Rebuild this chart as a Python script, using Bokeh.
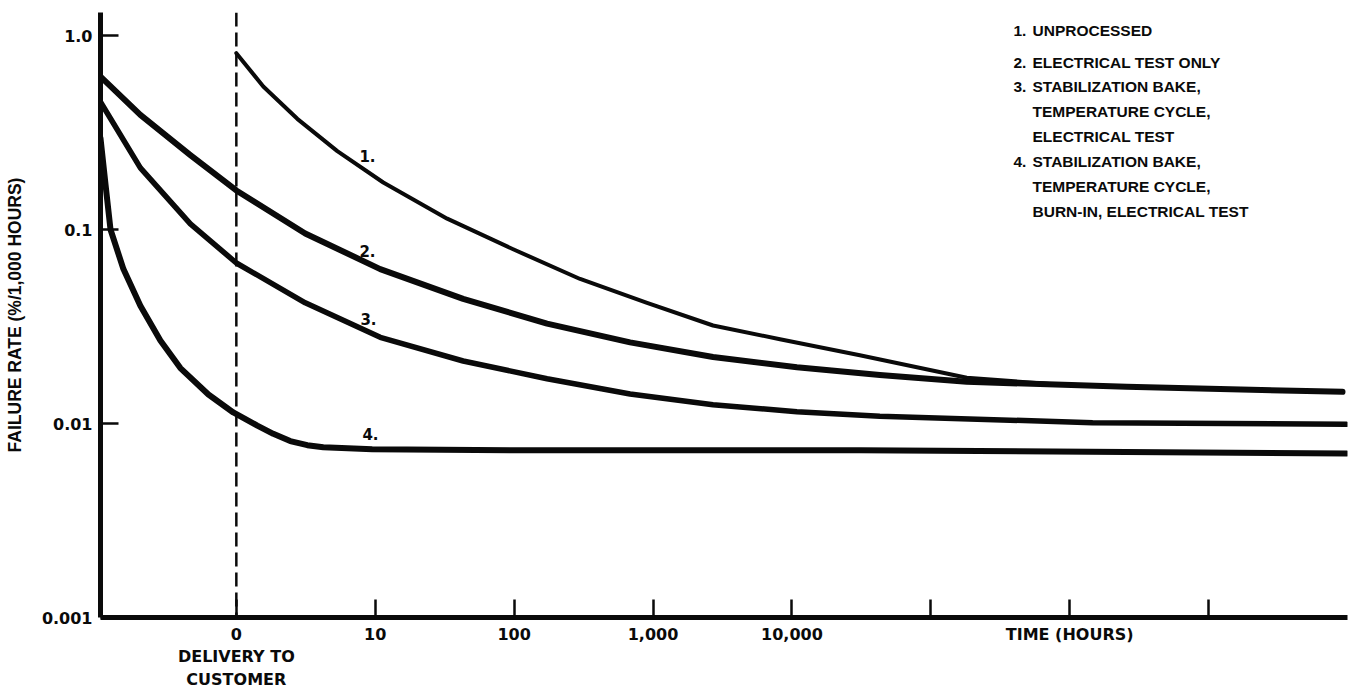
from bokeh.plotting import figure
from bokeh.models import FixedTicker, Label, Span
from bokeh.embed import file_html
from bokeh.resources import INLINE

# ---------------- data ----------------
# x = position on the stretched time axis: 0 = delivery to customer,
# 1 = 10 h, 2 = 100 h, 3 = 1,000 h, 4 = 10,000 h ...; negative = in-plant screening
curve1_x = [0.0, 0.194, 0.439, 0.727, 1.058, 1.518, 1.993, 2.475, 2.957, 3.432, 3.914, 4.489, 5.259, 5.856, 6.41, 7.964]
curve1_y = [0.811, 0.546, 0.372, 0.2535, 0.1747, 0.1137, 0.0791, 0.0556, 0.0419, 0.032, 0.0272, 0.0225, 0.0172, 0.016, 0.01545, 0.01456]

curve2_x = [-0.978, -0.691, -0.331, 0.0, 0.496, 1.036, 1.633, 2.237, 2.835, 3.432, 4.036, 4.633, 5.259, 6.41, 7.964]
curve2_y = [0.614, 0.39, 0.242, 0.159, 0.0954, 0.0625, 0.0439, 0.0327, 0.0262, 0.022, 0.0195, 0.0178, 0.0164, 0.01545, 0.01456]

curve3_x = [-0.978, -0.691, -0.331, 0.0, 0.496, 1.036, 1.633, 2.237, 2.835, 3.432, 4.036, 4.633, 6.165, 7.993]
curve3_y = [0.454, 0.208, 0.107, 0.0672, 0.0419, 0.0278, 0.021, 0.017, 0.0142, 0.0125, 0.0115, 0.0109, 0.0101, 0.0099]

curve4_x = [-0.978, -0.942, -0.906, -0.813, -0.691, -0.547, -0.403, -0.201, -0.022, 0.151, 0.266, 0.388, 0.511, 0.626, 0.978, 2.237, 4.489, 7.993]
curve4_y = [0.295, 0.171, 0.1, 0.0625, 0.0405, 0.0268, 0.0193, 0.0141, 0.0114, 0.00976, 0.00885, 0.00812, 0.00773, 0.00755, 0.00736, 0.00727, 0.00727, 0.00701]

curve_names = ["1.", "2.", "3.", "4."]

x_tick_positions = [0, 1, 2, 3, 4, 5, 6, 7]
x_tick_labels = ["0\nDELIVERY TO\nCUSTOMER", "10", "100", "1,000", "10,000", "", "TIME (HOURS)", ""]
y_tick_values = [0.001, 0.01, 0.1, 1.0]
y_tick_labels = ["0.001", "0.01", "0.1", "1.0"]

legend_numbers = ["1.", "2.", "3.", "", "", "4.", "", ""]
legend_lines = ["UNPROCESSED", "ELECTRICAL TEST ONLY", "STABILIZATION BAKE,",
                "TEMPERATURE CYCLE,", "ELECTRICAL TEST", "STABILIZATION BAKE,",
                "TEMPERATURE CYCLE,", "BURN-IN, ELECTRICAL TEST"]

y_title = "FAILURE RATE (%/1,000 HOURS)"

# ---------------- figure ----------------
p = figure(width=1353, height=692, x_range=(-0.978, 8.0), y_range=(0.001, 1.314),
           y_axis_type="log", output_backend="svg", toolbar_location=None,
           min_border_left=100, min_border_right=6, min_border_top=12, min_border_bottom=75)
p.outline_line_color = None
p.xgrid.visible = False
p.ygrid.visible = False
p.background_fill_color = "white"
p.border_fill_color = "white"

ink = "#0a0a0a"
num_font = "DejaVu Sans"
txt_font = "Liberation Sans"

# axes
for ax in (p.xaxis[0], p.yaxis[0]):
    ax.axis_line_width = 5
    ax.axis_line_color = ink
    ax.major_tick_line_width = 2.5
    ax.major_tick_line_color = ink
    ax.major_tick_in = 18
    ax.major_tick_out = 0
    ax.minor_tick_line_color = None
    ax.major_label_text_font = num_font
    ax.major_label_text_font_style = "bold"
    ax.major_label_text_color = ink

p.xaxis.ticker = FixedTicker(ticks=x_tick_positions)
p.xaxis.major_label_overrides = {t: l for t, l in zip(x_tick_positions, x_tick_labels)}
p.xaxis.major_label_standoff = 7
p.xaxis.major_label_text_font_size = "16px"
p.xaxis.axis_label_standoff = 0

p.yaxis.ticker = FixedTicker(ticks=y_tick_values)
p.yaxis.major_label_overrides = {t: l for t, l in zip(y_tick_values, y_tick_labels)}
p.yaxis.major_label_standoff = 8
p.yaxis.major_label_text_font_size = "16px"
p.yaxis.axis_label = y_title
p.yaxis.axis_label_text_font = txt_font
p.yaxis.axis_label_text_font_style = "bold"
p.yaxis.axis_label_text_font_size = "17.5px"
p.yaxis.axis_label_text_color = ink
p.yaxis.axis_label_standoff = 14

# delivery line
p.add_layout(Span(location=0, dimension="height", line_color=ink, line_width=2.5,
                  line_dash="14 6"))

# curves
widths = [4, 6, 5.5, 6]
for xs, ys, w in zip([curve1_x, curve2_x, curve3_x, curve4_x],
                     [curve1_y, curve2_y, curve3_y, curve4_y], widths):
    p.line(xs, ys, line_color=ink, line_width=w, line_cap="round", line_join="round")

# frame-relative screen positions (y measured up from the x axis)
label_pos = [(267, 462), (267, 367), (268, 299), (270, 184)]
for name, (sx, sy) in zip(curve_names, label_pos):
    p.add_layout(Label(x=sx, y=sy, x_units="screen", y_units="screen", text=name,
                       text_font=num_font, text_font_style="bold", text_font_size="15px",
                       text_color=ink, text_align="center", text_baseline="middle"))

legend_y = [587, 555, 531, 506, 481, 456, 431, 406]
for num, line, ly in zip(legend_numbers, legend_lines, legend_y):
    if num:
        p.add_layout(Label(x=913, y=ly, x_units="screen", y_units="screen", text=num,
                           text_font=txt_font, text_font_style="bold", text_font_size="15.5px",
                           text_color=ink, text_align="left", text_baseline="middle"))
    p.add_layout(Label(x=932, y=ly, x_units="screen", y_units="screen", text=line,
                       text_font=txt_font, text_font_style="bold", text_font_size="15.5px",
                       text_color=ink, text_align="left", text_baseline="middle"))

open("out.html", "w").write(file_html(p, INLINE))
